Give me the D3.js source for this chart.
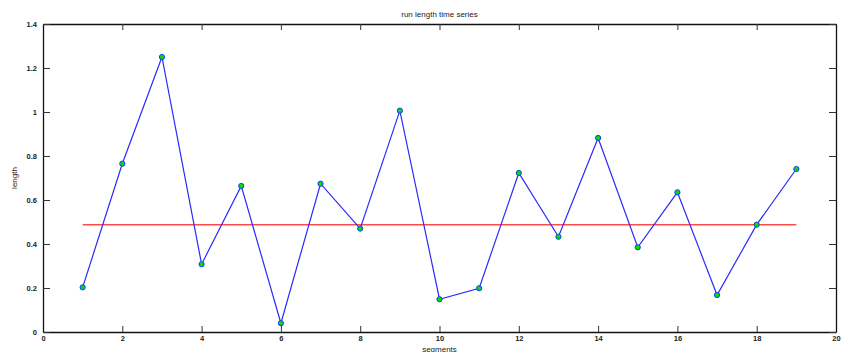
<!DOCTYPE html>
<html>
<head>
<meta charset="utf-8">
<script src="https://cdn.jsdelivr.net/npm/d3@7"></script>
<style>
  body { margin: 0; background: #fff; }
  svg text { font-family: "Liberation Sans", Arial, sans-serif; fill: #222; }
</style>
</head>
<body>
<svg id="chart" width="844" height="352"></svg>
<script>
// segment index and run length
var segments = [1,2,3,4,5,6,7,8,9,10,11,12,13,14,15,16,17,18,19];
var lengths = [0.203,0.765,1.25,0.308,0.664,0.040,0.674,0.470,1.006,0.149,
               0.199,0.723,0.433,0.882,0.385,0.635,0.168,0.488,0.741];
var xTicks = [0,2,4,6,8,10,12,14,16,18,20];
var yTicks = [0,0.2,0.4,0.6,0.8,1,1.2,1.4];
var refLevel = 0.488;

var svg = d3.select("#chart"),
  margin = {top: 24, right: 8, bottom: 20, left: 43},
  width = 844 - margin.left - margin.right,
  height = 352 - margin.top - margin.bottom;

var g = svg.append("g").attr("transform", "translate(" + margin.left + "," + margin.top + ")");

var x = d3.scaleLinear().domain([0, 20]).range([0, width]);
var y = d3.scaleLinear().domain([0, 1.4]).range([height, 0]);

// box with inward ticks like matlab
function styleAxis(sel){
  sel.select(".domain").attr("stroke", "#111").attr("stroke-width", 1.3);
  sel.selectAll(".tick line").attr("stroke", "#333").attr("stroke-width", 1);
  sel.selectAll(".tick text").attr("font-size", "7.5px").attr("font-weight", "bold").attr("fill", "#333");
}

g.append("g")
    .attr("transform", "translate(0," + height + ")")
    .call(d3.axisBottom(x).tickValues(xTicks).tickSizeInner(-6).tickSizeOuter(0).tickPadding(4).tickFormat(d3.format("d")))
    .call(styleAxis);

g.append("g")
    .call(d3.axisTop(x).tickValues(xTicks).tickSizeInner(-6).tickSizeOuter(0).tickFormat(""))
    .call(styleAxis);

g.append("g")
    .call(d3.axisLeft(y).tickValues(yTicks).tickSizeInner(-7).tickSizeOuter(0).tickPadding(6).tickFormat(function(d){ return d3.format("")(+d.toFixed(1)); }))
    .call(styleAxis);

g.append("g")
    .attr("transform", "translate(" + width + ",0)")
    .call(d3.axisRight(y).tickValues(yTicks).tickSizeInner(-7).tickSizeOuter(0).tickFormat(""))
    .call(styleAxis);

// median level
g.append("line")
    .attr("x1", x(segments[0]))
    .attr("x2", x(segments[segments.length - 1]))
    .attr("y1", y(refLevel))
    .attr("y2", y(refLevel))
    .attr("stroke", "#ff4d4d")
    .attr("stroke-width", 1.5);

var data = segments.map(function(s, i){ return {seg: s, len: lengths[i]}; });

var line = d3.line()
    .x(function(d){ return x(d.seg); })
    .y(function(d){ return y(d.len); });

g.append("path")
    .datum(data)
    .attr("fill", "none")
    .attr("stroke", "#2a2aff")
    .attr("stroke-width", 1.2)
    .attr("d", line);

g.selectAll("circle")
    .data(data)
    .enter()
    .append("circle")
      .attr("cx", function(d){ return x(d.seg); })
      .attr("cy", function(d){ return y(d.len); })
      .attr("r", 2.6)
      .attr("fill", "#00e000")
      .attr("stroke", "#1a3aff")
      .attr("stroke-width", 1);

svg.append("text")
    .attr("x", margin.left + width / 2)
    .attr("y", 17)
    .attr("text-anchor", "middle")
    .attr("font-size", "8px")
    .text("run length time series");

svg.append("text")
    .attr("x", margin.left + width / 2)
    .attr("y", 351.5)
    .attr("text-anchor", "middle")
    .attr("font-size", "8px")
    .text("segments");

svg.append("text")
    .attr("transform", "translate(17," + (margin.top + height / 2) + ") rotate(-90)")
    .attr("text-anchor", "middle")
    .attr("font-size", "8px")
    .text("length");
</script>
</body>
</html>
